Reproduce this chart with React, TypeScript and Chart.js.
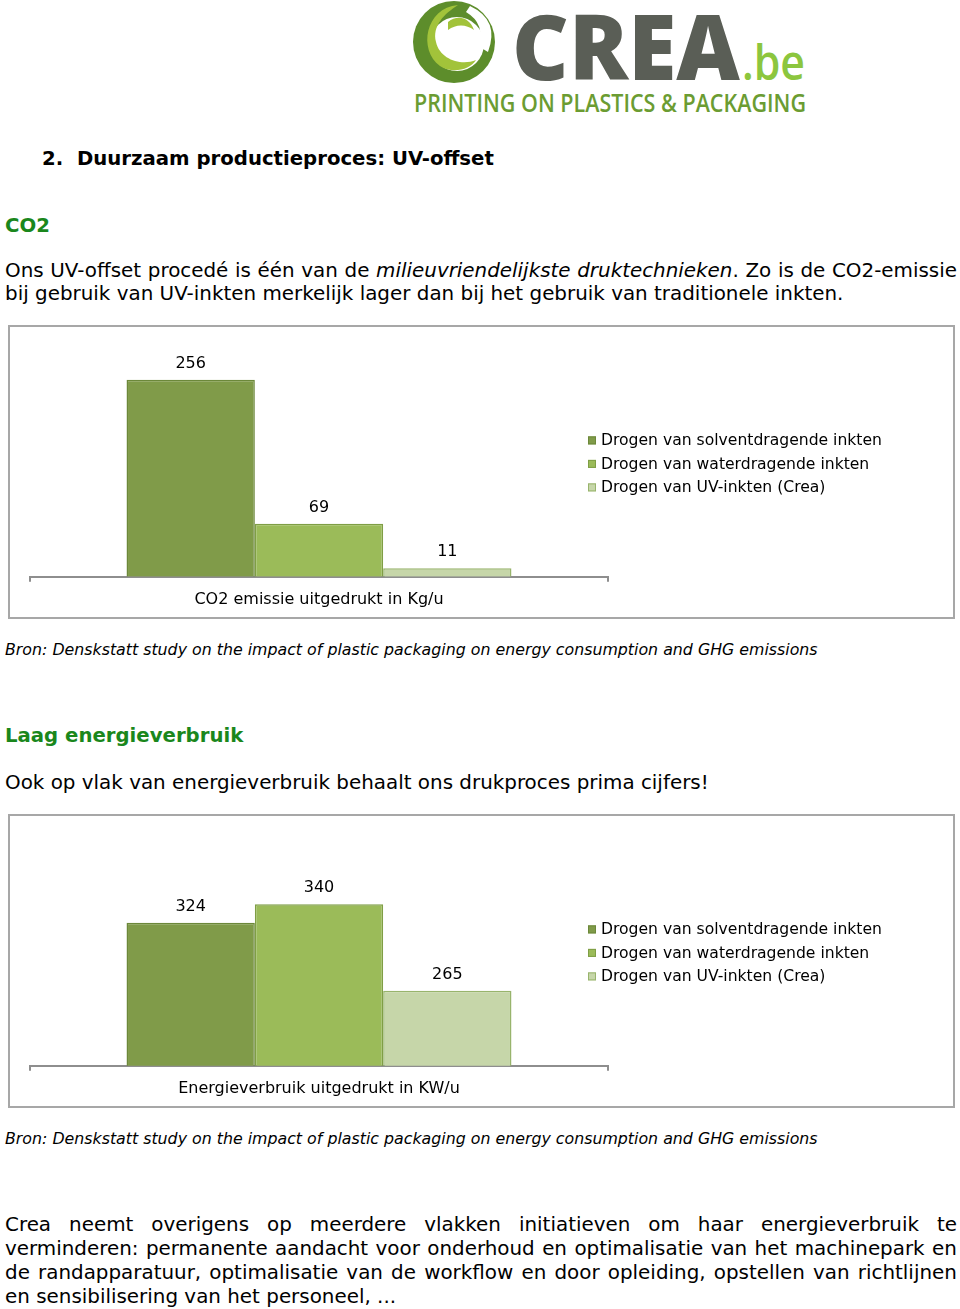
import React, { useEffect, useRef } from 'react';
import { Chart, registerables } from 'chart.js';

Chart.register(...registerables);

const FONT = "'DejaVu Sans', Verdana, sans-serif";

// ---- data ----
const seriesNames = [
  'Drogen van solventdragende inkten',
  'Drogen van waterdragende inkten',
  'Drogen van UV-inkten (Crea)',
];
const co2Category = ['CO2 emissie uitgedrukt in Kg/u'];
const co2Values = [256, 69, 11];
const co2Range = [0, 300];
const energyCategory = ['Energieverbruik uitgedrukt in KW/u'];
const energyValues = [324, 340, 265];
const energyRange = [200, 400];

const fills = ['#809b49', '#9bbb59', '#c6d6a9'];
const borders = ['#6c883a', '#7f9e45', '#98b46c'];

const valueLabelPlugin = {
  id: 'valueLabels',
  afterDatasetsDraw(chart: any) {
    const ctx = chart.ctx;
    ctx.save();
    ctx.font = `16px ${FONT}`;
    ctx.fillStyle = '#000';
    ctx.textAlign = 'center';
    ctx.textBaseline = 'middle';
    chart.data.datasets.forEach((ds: any, i: number) => {
      const meta = chart.getDatasetMeta(i);
      meta.data.forEach((bar: any, j: number) => {
        ctx.fillText(String(ds.data[j]), bar.x, bar.y - 16);
      });
    });
    ctx.restore();
  },
};

const sideLegendPlugin = {
  id: 'sideLegend',
  afterDraw(chart: any) {
    const ctx = chart.ctx;
    const area = chart.chartArea;
    const cy = (area.top + area.bottom) / 2 + 2.5;
    const bx = area.right - 20;
    ctx.save();
    ctx.font = `15.6px ${FONT}`;
    ctx.textAlign = 'left';
    ctx.textBaseline = 'middle';
    chart.data.datasets.forEach((ds: any, i: number) => {
      const y = cy + (i - 1) * 23.5;
      ctx.fillStyle = ds.backgroundColor;
      ctx.fillRect(bx, y - 4, 8, 8);
      ctx.strokeStyle = ds.borderColor;
      ctx.lineWidth = 1;
      ctx.strokeRect(bx + 0.5, y - 3.5, 7, 7);
      ctx.fillStyle = '#000';
      ctx.fillText(ds.label, bx + 13, y + 1);
    });
    ctx.restore();
  },
};

function BarBox({ top, category, values, range }: { top: number; category: string[]; values: number[]; range: number[] }) {
  const ref = useRef<HTMLCanvasElement | null>(null);
  useEffect(() => {
    if (!ref.current) return;
    const chart = new Chart(ref.current, {
      type: 'bar',
      data: {
        labels: category,
        datasets: seriesNames.map((name, i) => ({
          label: name,
          data: [values[i]],
          backgroundColor: fills[i],
          borderColor: borders[i],
          borderWidth: 1.5,
          barPercentage: 1,
          categoryPercentage: 0.666,
        })),
      },
      options: {
        responsive: false,
        maintainAspectRatio: false,
        animation: false,
        layout: { padding: { left: 20, right: 345, top: 19, bottom: 0 } },
        plugins: { legend: { display: false }, tooltip: { enabled: false } },
        scales: {
          x: {
            grid: { offset: true, drawOnChartArea: false, drawTicks: true, tickLength: 5, color: '#8e8e8e', lineWidth: 2 },
            border: { display: true, color: '#8e8e8e', width: 2 },
            ticks: { font: { family: FONT, size: 16 }, color: '#000', padding: 8 },
          },
          y: { display: false, min: range[0], max: range[1] },
        },
      } as any,
      plugins: [valueLabelPlugin, sideLegendPlugin],
    });
    return () => chart.destroy();
  }, []);
  return (
    <div
      style={{
        position: 'absolute',
        left: 8,
        top,
        width: 947,
        height: 294,
        border: '2px solid #a7a7a7',
        boxSizing: 'border-box',
        background: '#fff',
      }}
    >
      <canvas ref={ref} width={943} height={290} style={{ position: 'absolute', left: 0, top: 0 }} />
    </div>
  );
}

type LineProps = {
  y: number;
  text: string;
  size?: number;
  weight?: number | string;
  italic?: boolean;
  color?: string;
  justify?: boolean;
  left?: number;
  width?: number;
};

function Line({ y, text, size = 19.9, weight = 400, italic = false, color = '#000', justify = false, left = 5, width = 952 }: LineProps) {
  const lh = size * 1.3;
  const base: React.CSSProperties = {
    position: 'absolute',
    left,
    top: y - lh * 0.45,
    width,
    height: lh,
    lineHeight: `${lh}px`,
    fontFamily: FONT,
    fontSize: size,
    fontWeight: weight as any,
    fontStyle: italic ? 'italic' : 'normal',
    color,
    whiteSpace: 'nowrap',
  };
  // '*' toggles italic
  const words: { t: string; it: boolean }[][] = [];
  let it = italic;
  text.split(' ').forEach((raw) => {
    let w = '';
    const segs: { t: string; it: boolean }[] = [];
    for (const ch of raw) {
      if (ch === '*') {
        if (w) segs.push({ t: w, it });
        w = '';
        it = !it;
      } else w += ch;
    }
    if (w) segs.push({ t: w, it });
    words.push(segs);
  });
  const renderSegs = (segs: { t: string; it: boolean }[]) =>
    segs.map((s, k) => (
      <span key={k} style={{ fontStyle: s.it ? 'italic' : 'normal' }}>{s.t}</span>
    ));
  if (justify) {
    return (
      <div style={{ ...base, display: 'flex', justifyContent: 'space-between' }}>
        {words.map((segs, i) => (
          <span key={i}>{renderSegs(segs)}</span>
        ))}
      </div>
    );
  }
  return (
    <div style={base}>
      {words.map((segs, i) => (
        <React.Fragment key={i}>
          {i > 0 ? ' ' : ''}
          {renderSegs(segs)}
        </React.Fragment>
      ))}
    </div>
  );
}

function Logo() {
  return (
    <svg width={960} height={120} style={{ position: 'absolute', left: 0, top: 0 }}>
      <circle cx={454} cy={42} r={41} fill="#5d8d2b" />
      <circle cx={457} cy={44} r={27} fill="#fff" />
      <path d="M 470 6 Q 500 20 488 52 L 478 46 Q 486 24 466 12 Z" fill="#fff" />
      <path d="M 458 5 C 425 8 418 50 440 66 C 452 74 470 70 476 60 C 462 66 440 60 436 42 C 432 26 444 14 458 5 Z" fill="#a2c33a" />
      <path d="M 448 22 C 458 14 470 18 474 30 C 466 24 456 24 448 30 Z" fill="#a2c33a" />
      <text x={512} y={80} fontFamily="'Open Sans', 'DejaVu Sans', sans-serif" fontWeight={800} fontSize={90} fill="#5a5e56" textLength={228} lengthAdjust="spacingAndGlyphs">CREA</text>
      <text x={742} y={80} fontFamily="'Open Sans', 'DejaVu Sans', sans-serif" fontWeight={600} fontSize={48} fill="#8cc63e" textLength={63} lengthAdjust="spacingAndGlyphs">.be</text>
      <text x={414} y={112} fontFamily="'Open Sans', 'DejaVu Sans', sans-serif" fontWeight={600} fontSize={25} fill="#6b9c32" textLength={392} lengthAdjust="spacingAndGlyphs">PRINTING ON PLASTICS &amp; PACKAGING</text>
    </svg>
  );
}

export default function App() {
  useEffect(() => {
    document.body.style.margin = '0';
  }, []);
  const green = '#1a871c';
  return (
    <div style={{ position: 'relative', width: 960, height: 1309, background: '#fff', overflow: 'hidden' }}>
      <Logo />
      <Line y={158} left={42} width={40} text="2." size={19.7} weight={700} />
      <Line y={158} left={77} width={600} text="Duurzaam productieproces: UV-offset" size={19.7} weight={700} />
      <Line y={225} text="CO2" size={19.7} weight={700} color={green} />
      <Line y={270} justify text="Ons UV-offset procedé is één van de *milieuvriendelijkste druktechnieken*. Zo is de CO2-emissie" />
      <Line y={293} text="bij gebruik van UV-inkten merkelijk lager dan bij het gebruik van traditionele inkten." />
      <BarBox top={325} category={co2Category} values={co2Values} range={co2Range} />
      <Line y={649} size={15.8} italic text="Bron: Denskstatt study on the impact of plastic packaging on energy consumption and GHG emissions" />
      <Line y={735} text="Laag energieverbruik" size={19.7} weight={700} color={green} />
      <Line y={782} text="Ook op vlak van energieverbruik behaalt ons drukproces prima cijfers!" />
      <BarBox top={814} category={energyCategory} values={energyValues} range={energyRange} />
      <Line y={1138} size={15.8} italic text="Bron: Denskstatt study on the impact of plastic packaging on energy consumption and GHG emissions" />
      <Line y={1224} justify text="Crea neemt overigens op meerdere vlakken initiatieven om haar energieverbruik te" />
      <Line y={1248} justify text="verminderen: permanente aandacht voor onderhoud en optimalisatie van het machinepark en" />
      <Line y={1272} justify text="de randapparatuur, optimalisatie van de workflow en door opleiding, opstellen van richtlijnen" />
      <Line y={1296} text="en sensibilisering van het personeel, ..." />
    </div>
  );
}
